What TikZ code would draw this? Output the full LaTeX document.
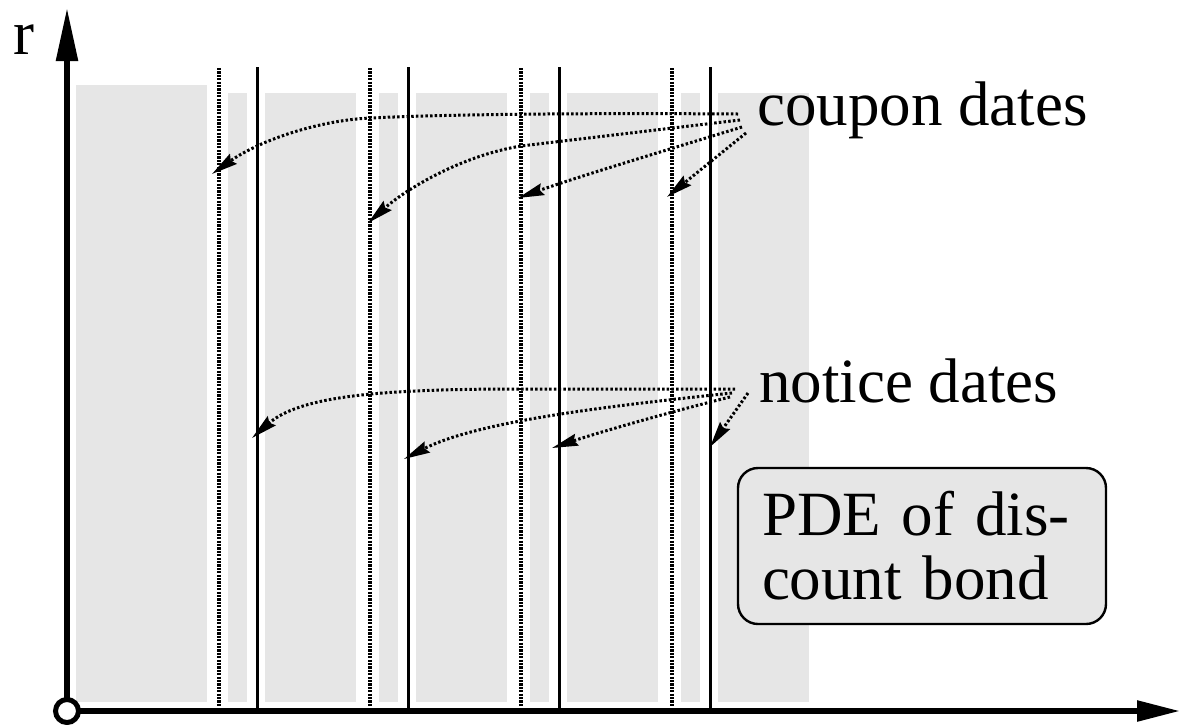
\documentclass[tikz,border=0pt]{standalone}
\usepackage{fontspec}
\setmainfont{Liberation Serif}
\usetikzlibrary{arrows.meta}
\definecolor{lg}{HTML}{E6E6E6}
\tikzset{
  axis/.style={line width=5.5pt},
  band/.style={fill=lg, draw=none},
  soldate/.style={line width=3pt},
  dotdate/.style={line width=4pt, dash pattern=on 2.2pt off 1.2pt},
  pointer/.style={line width=3pt, dash pattern=on 2.5pt off 2.2pt,
    -{Stealth[length=26pt,width=12pt,inset=3pt]}},
  lbl/.style={anchor=base west, inner sep=0pt, font=\fontsize{63}{64}\selectfont},
  pdebox/.style={draw, line width=2.4pt, rounded corners=20pt, fill=lg,
    minimum width=368pt, minimum height=156pt, text width=320pt, align=left,
    inner sep=0pt, font=\fontsize{63}{64}\selectfont}
}
\begin{document}
\begin{tikzpicture}[x=1pt,y=-1pt]
\useasboundingbox (0,0) rectangle (1180,724);
% gray bands
\fill[band] (76,85) rectangle (207,702);
\foreach \d in {0,151,302,453}{
  \fill[band] (228+\d,93) rectangle (247+\d,702);
  \fill[band] (265+\d,93) rectangle (356+\d,702);
}
% date lines
\foreach \d [count=\i] in {0,151,302,453}{
  \draw[dotdate] (219+\d,68) -- (219+\d,707);
  \draw[soldate] (257+\d,67) -- (257+\d,711);
}
% axes
\coordinate (O) at (67,711);
\coordinate (Ytop) at (67,8);
\coordinate (Xend) at (1180,711);
\draw[axis,-{Triangle[length=53pt,width=21pt]}] (O) -- (Ytop);
\draw[axis,-{Triangle[length=43pt,width=20pt]}] (O) -- (Xend);
\node[circle, draw, fill=white, line width=5pt, minimum size=23pt, inner sep=0pt] (orig) at (O) {};
\node[lbl] (r) at (13,54) {r};
% labels
\node[lbl] (coupon) at (757,125) {coupon dates};
\node[lbl] (notice) at (759,402) {notice dates};
\node[pdebox] (pde) at (922,546) {PDE of dis-\\count bond};
% coupon arrow endpoints
\coordinate (cs1) at (738,114);
\coordinate (cs2) at (740,120);
\coordinate (cs3) at (742,127);
\coordinate (cs4) at (746,133);
\coordinate (ct1) at (212,174);
\coordinate (ct2) at (368,223);
\coordinate (ct3) at (518,198);
\coordinate (ct4) at (667,197);
\draw[pointer] (cs1) .. controls (600,113) and (450,114) .. (371,118)
  .. controls (320,120) and (260,140) .. (ct1);
\draw[pointer] (cs2) -- (521,146) .. controls (460,156) and (405,190) .. (ct2);
\draw[pointer] (cs3) .. controls (680,146) and (580,176) .. (ct3);
\draw[pointer] (cs4) -- (ct4);
% notice arrow endpoints
\coordinate (ns1) at (735,389);
\coordinate (ns2) at (732,393);
\coordinate (ns3) at (730,397);
\coordinate (ns4) at (748,393);
\coordinate (nt1) at (252,438);
\coordinate (nt2) at (404,459);
\coordinate (nt3) at (552,448);
\coordinate (nt4) at (710,447);
\draw[pointer] (ns1) -- (520,389) .. controls (380,389) and (300,396) .. (nt1);
\draw[pointer] (ns2) .. controls (620,405) and (480,420) .. (nt2);
\draw[pointer] (ns3) .. controls (670,412) and (600,432) .. (nt3);
\draw[pointer] (ns4) -- (nt4);
\end{tikzpicture}
\end{document}
